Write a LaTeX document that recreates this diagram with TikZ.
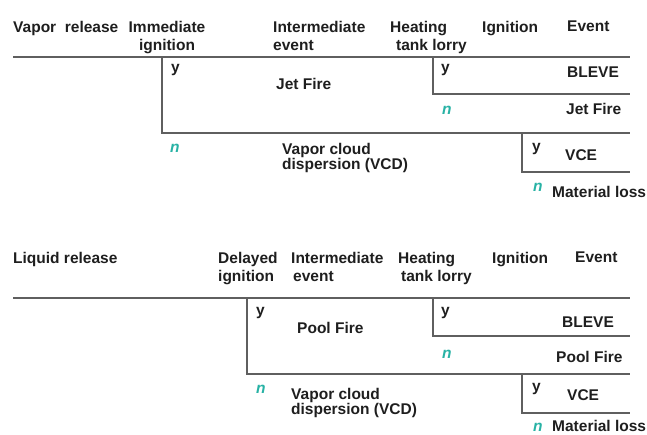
\documentclass[tikz,border=0pt]{standalone}
\usepackage{fontspec}
\setmainfont{Liberation Sans}
\usepackage{tikz}
\usetikzlibrary{positioning}
\definecolor{branchgray}{RGB}{95,95,95}
\definecolor{noteal}{RGB}{40,178,165}
\definecolor{inkdark}{RGB}{30,30,30}

\begin{document}
\begin{tikzpicture}[
    x=1pt, y=-1pt,
    hdr/.style={inner sep=0pt,anchor=north west,align=left,text=inkdark,
                font=\fontsize{15.5}{18}\selectfont\bfseries},
    lbl/.style={inner sep=0pt,anchor=base west,text=inkdark,
                font=\fontsize{15.5}{15}\selectfont\bfseries},
    multi/.style={inner sep=0pt,anchor=north west,align=left,text=inkdark,
                  font=\fontsize{15.5}{15}\selectfont\bfseries},
    yes/.style={lbl},
    no/.style={lbl,text=noteal,font=\fontsize{15.5}{15}\selectfont\bfseries\itshape},
    branch/.style={draw=branchgray,line width=1.7pt}]

    \useasboundingbox (0,0) rectangle (647,435);

    % Vapor release: headings
    \node[hdr] (vrel)  at (13,21)  {Vapor\ \ release};
    \node[hdr,align=center,anchor=north] (vimm) at (167,21) {Immediate\\ignition};
    \node[hdr] (vint)  at (273,21) {Intermediate\\event};
    \node[hdr] (vheat) at (390,21) {Heating\\\hspace*{6pt}tank lorry};
    \node[hdr] (vign)  at (482,21) {Ignition};
    \node[hdr] (vevt)  at (567,21) {Event};

    % Vapor release: branches
    \coordinate (vstart) at (13,57);
    \coordinate (vend)   at (630,57);
    \coordinate (vii)    at (162,57);
    \coordinate (viin)   at (630,133);
    \coordinate (vht)    at (433,57);
    \coordinate (vhtn)   at (630,94);
    \coordinate (vig)    at (522,133);
    \coordinate (vign2)  at (630,172);
    \draw[branch] (vstart) -- (vend);
    \draw[branch] (vii) |- (viin);
    \draw[branch] (vht) |- (vhtn);
    \draw[branch] (vig) |- (vign2);

    % Vapor release: outcomes
    \node[yes] (vy1)   at (171,73)  {y};
    \node[lbl] (vjet)  at (276,90)  {Jet Fire};
    \node[no]  (vn1)   at (170,153) {n};
    \node[multi] (vvcd) at (282,143) {Vapor cloud\\dispersion (VCD)};
    \node[yes] (vy2)   at (441,73)  {y};
    \node[lbl] (vbl)   at (567,78)  {BLEVE};
    \node[no]  (vn2)   at (442,115) {n};
    \node[lbl] (vjet2) at (566,115) {Jet Fire};
    \node[yes] (vy3)   at (532,152) {y};
    \node[lbl] (vvce)  at (565,161) {VCE};
    \node[no]  (vn3)   at (533,192) {n};
    \node[lbl] (vml)   at (552,198) {Material loss};

    % Liquid release: headings
    \node[hdr] (lrel)  at (13,252)  {Liquid release};
    \node[hdr] (ldel)  at (218,252) {Delayed\\ignition};
    \node[hdr] (lint)  at (291,252) {Intermediate\\\hspace*{2pt}event};
    \node[hdr] (lheat) at (398,252) {Heating\\\hspace*{3pt}tank lorry};
    \node[hdr] (lign)  at (492,252) {Ignition};
    \node[hdr] (levt)  at (575,252) {Event};

    % Liquid release: branches
    \coordinate (lstart) at (13,298);
    \coordinate (lend)   at (630,298);
    \coordinate (ldi)    at (247,298);
    \coordinate (ldin)   at (630,374);
    \coordinate (lht)    at (433,298);
    \coordinate (lhtn)   at (630,336);
    \coordinate (lig)    at (522,374);
    \coordinate (lign2)  at (630,413);
    \draw[branch] (lstart) -- (lend);
    \draw[branch] (ldi) |- (ldin);
    \draw[branch] (lht) |- (lhtn);
    \draw[branch] (lig) |- (lign2);

    % Liquid release: outcomes
    \node[yes] (ly1)   at (256,316) {y};
    \node[lbl] (lpool) at (297,333) {Pool Fire};
    \node[no]  (ln1)   at (256,393) {n};
    \node[multi] (lvcd) at (291,388) {Vapor cloud\\dispersion (VCD)};
    \node[yes] (ly2)   at (441,315) {y};
    \node[lbl] (lbl)   at (562,327) {BLEVE};
    \node[no]  (ln2)   at (442,358) {n};
    \node[lbl] (lpool2) at (556,362) {Pool Fire};
    \node[yes] (ly3)   at (532,391) {y};
    \node[lbl] (lvce)  at (567,400) {VCE};
    \node[no]  (ln3)   at (533,431) {n};
    \node[lbl] (lml)   at (552,431) {Material loss};
\end{tikzpicture}
\end{document}
